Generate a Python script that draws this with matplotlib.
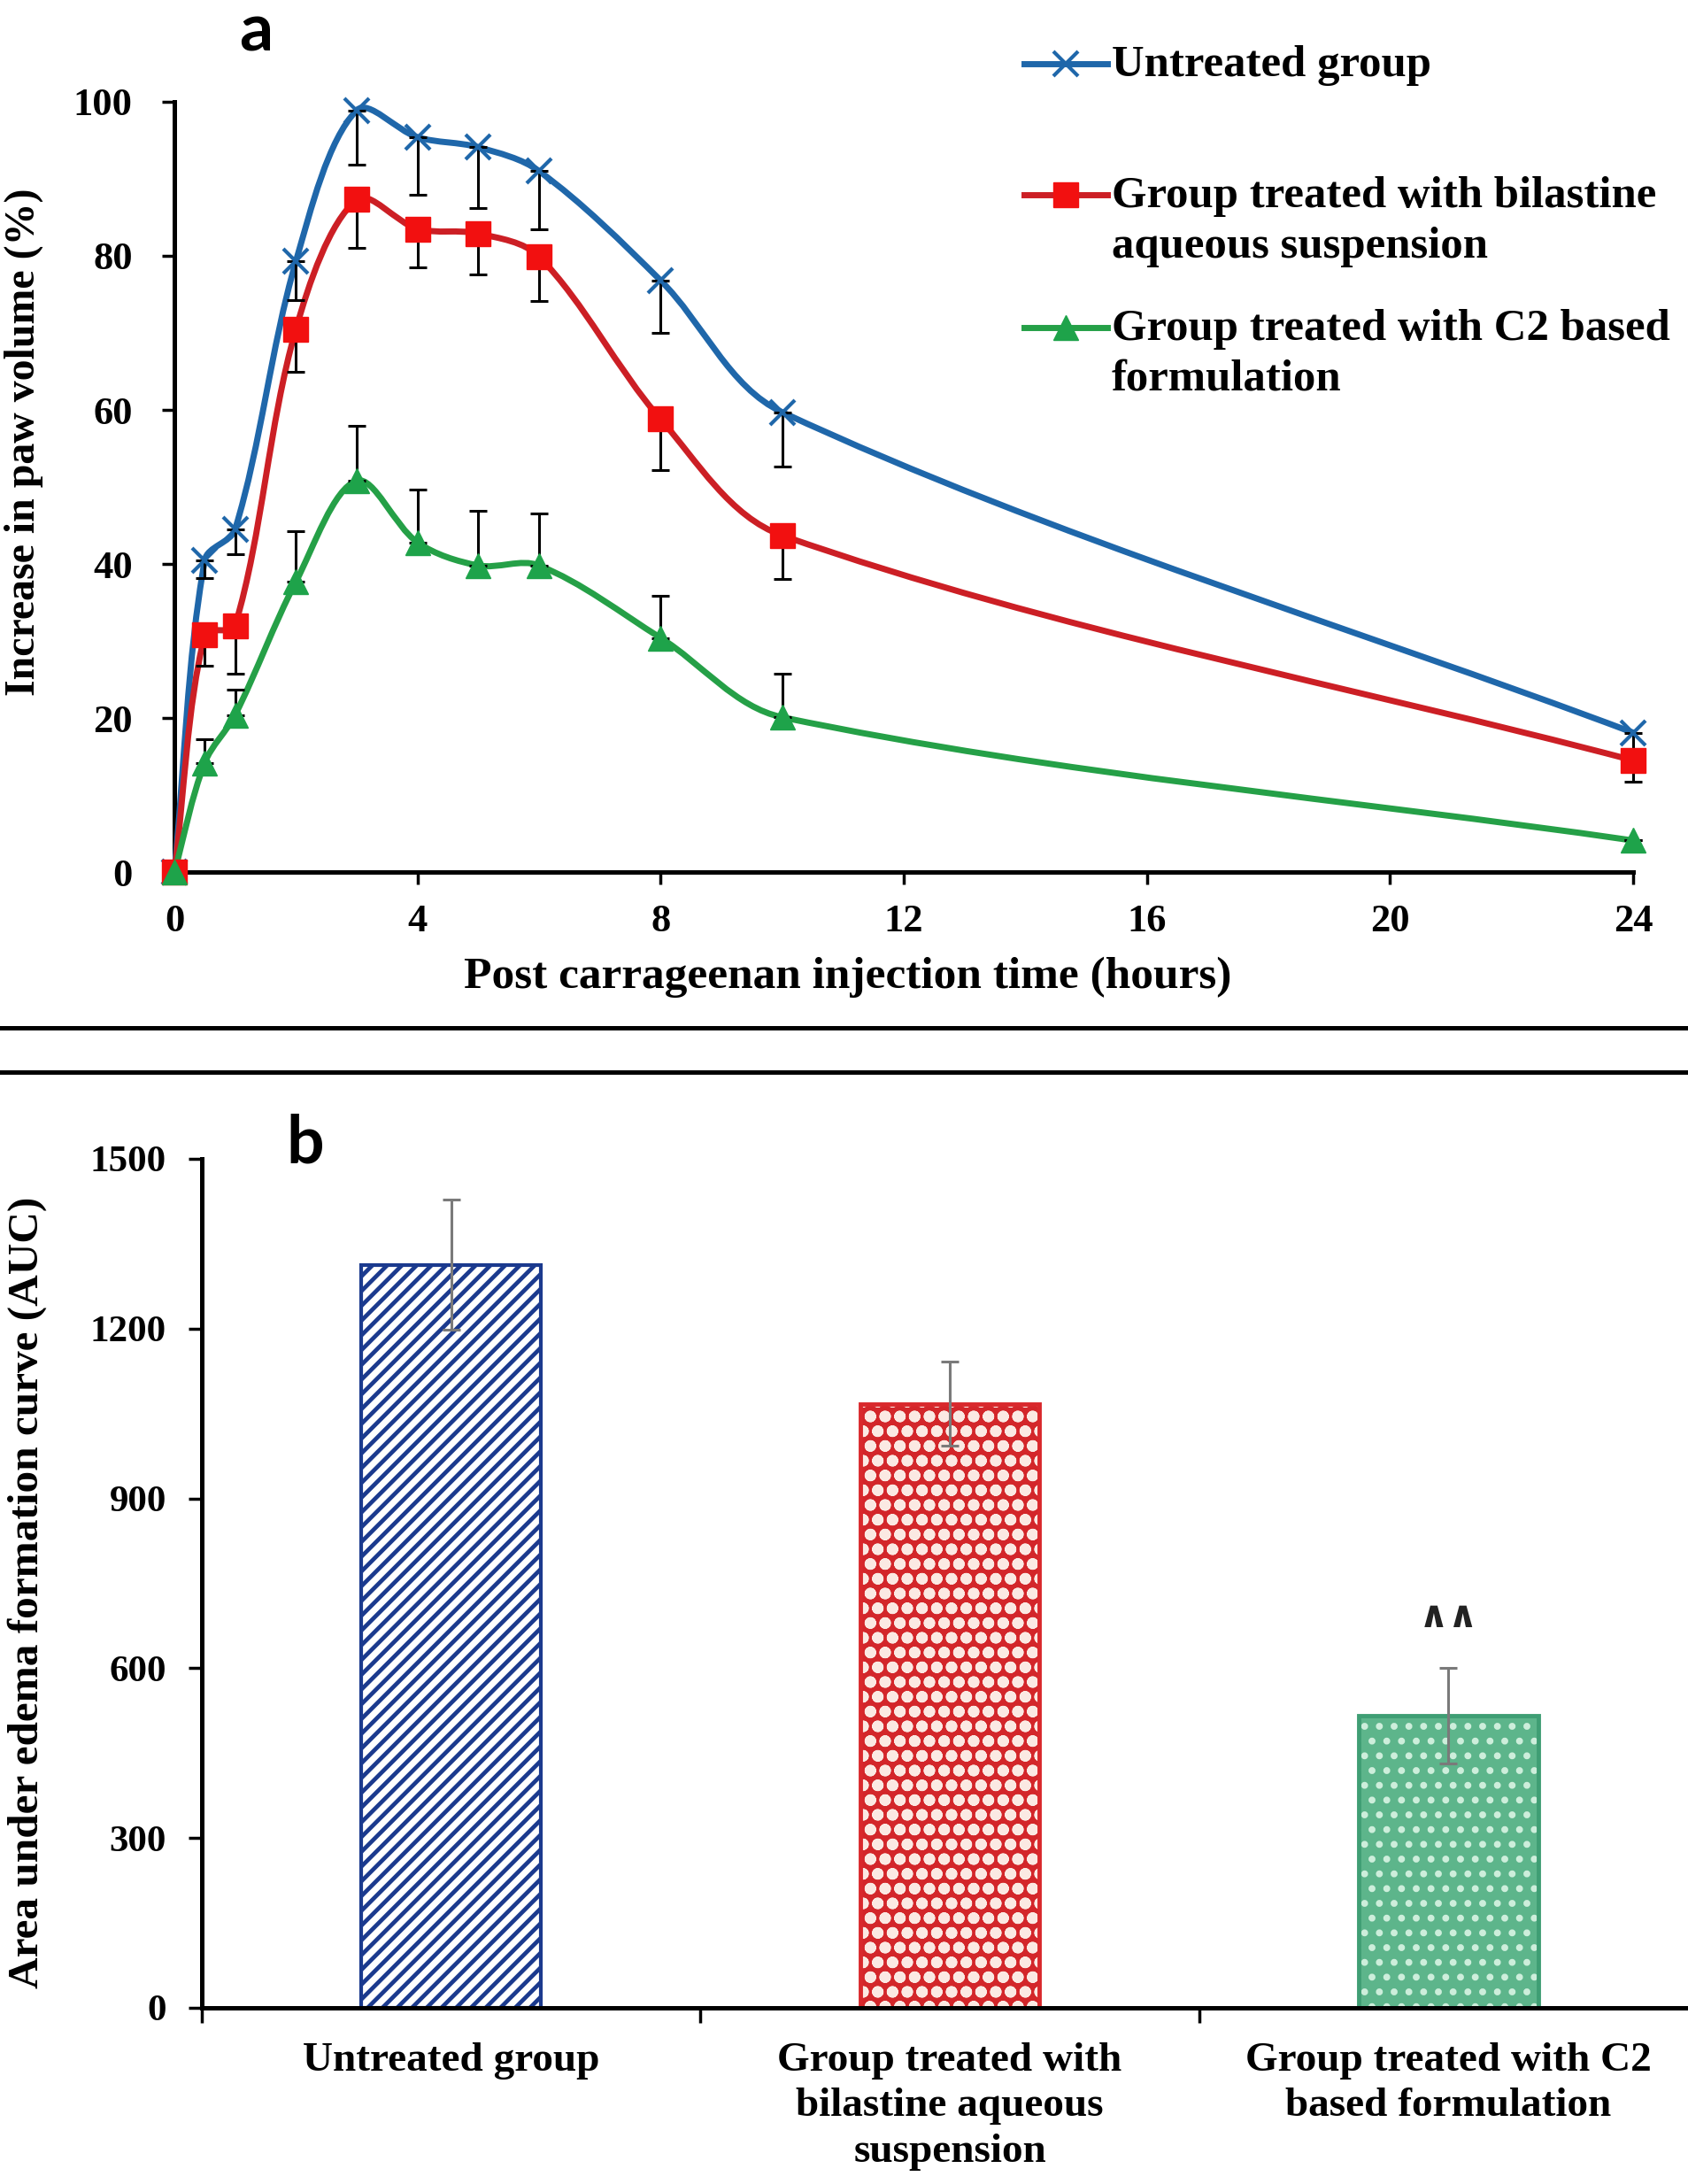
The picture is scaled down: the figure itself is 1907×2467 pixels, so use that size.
import numpy as np
import matplotlib
matplotlib.use("Agg")
import matplotlib.pyplot as plt
from matplotlib.path import Path
from matplotlib.patches import PathPatch
from matplotlib.lines import Line2D

# ---- data (a): paw volume increase (%) vs time (h)
hours = [0, 0.5, 1, 2, 3, 4, 5, 6, 8, 10, 24]
untreated = [0, 40.5, 44.5, 79.3, 98.9, 95.4, 94.1, 91.0, 76.8, 59.7, 18.1]
untreated_err = [0, 2.3, 3.2, 5.0, 7.1, 7.5, 7.9, 7.5, 6.8, 7.0, 3.0]      # drawn downward
bilastine = [0, 30.8, 32.0, 70.5, 87.3, 83.5, 82.9, 79.9, 58.8, 43.7, 14.5]
bilastine_err = [0, 4.0, 6.2, 5.5, 6.3, 5.0, 5.3, 5.8, 6.6, 5.7, 2.8]      # drawn downward
c2_form = [0, 14.2, 20.4, 37.7, 50.8, 42.8, 39.8, 39.8, 30.4, 20.1, 4.1]
c2_err = [0, 3.1, 3.3, 6.6, 7.1, 6.8, 7.1, 6.7, 5.5, 5.6, 0]                # drawn upward

# ---- data (b): AUC
groups = ["Untreated group",
          "Group treated with\nbilastine aqueous\nsuspension",
          "Group treated with C2\nbased formulation"]
auc = [1313, 1067, 516]
auc_err = [115, 74, 84]

legend_labels = ["Untreated group",
                 "Group treated with bilastine\naqueous suspension",
                 "Group treated with C2 based\nformulation"]

BLUE = "#1f67aa"
RED_LINE = "#cc1f25"
RED_MK = "#f21010"
GREEN_LINE = "#25a047"
GREEN_MK = "#1ea34a"

SERIF = "Liberation Serif"
plt.rcParams["font.family"] = [SERIF, "DejaVu Serif"]
plt.rcParams["font.weight"] = "bold"


def smooth_path(xs, ys, sx, sy):
    # smoothed line (like the spreadsheet "smoothed line" option), built in screen-like units
    p = np.column_stack([np.asarray(xs, float) * sx, np.asarray(ys, float) * sy])
    n = len(p)
    d = np.linalg.norm(np.diff(p, axis=0), axis=1)
    tang = np.zeros_like(p)
    tang[0] = (p[1] - p[0]) / d[0]
    tang[-1] = (p[-1] - p[-2]) / d[-1]
    for i in range(1, n - 1):
        tang[i] = (p[i + 1] - p[i - 1]) / (d[i - 1] + d[i])
    verts = [p[0]]
    codes = [Path.MOVETO]
    for i in range(n - 1):
        c1 = p[i] + tang[i] * d[i] / 3
        c2 = p[i + 1] - tang[i + 1] * d[i] / 3
        verts += [c1, c2, p[i + 1]]
        codes += [Path.CURVE4] * 3
    verts = np.array(verts)
    verts[:, 0] /= sx
    verts[:, 1] /= sy
    return Path(verts, codes)


fig = plt.figure(figsize=(19.07, 24.67), dpi=100)

# ================= panel a =================
ax = fig.add_axes([0.1033, 0.6007, 0.8642, 0.3527])
ax.set_xlim(0, 24)
ax.set_ylim(0, 100)

series = [
    (untreated, untreated_err, "down", BLUE, BLUE, "x"),
    (bilastine, bilastine_err, "down", RED_LINE, RED_MK, "s"),
    (c2_form, c2_err, "up", GREEN_LINE, GREEN_MK, "^"),
]
sx, sy = 1648 / 24, 870 / 100
for vals, err, side, lc, mc, mk in series:
    pp = PathPatch(smooth_path(hours, vals, sx, sy), facecolor="none", edgecolor=lc,
                   lw=5, zorder=2, clip_on=False, capstyle="round", joinstyle="round")
    ax.add_patch(pp)
    zeros = [0] * len(err)
    yerr = [err, zeros] if side == "down" else [zeros, err]
    ax.errorbar(hours, vals, yerr=yerr, fmt="none", ecolor="black", elinewidth=2.2,
                capsize=7, capthick=2.2, zorder=3, clip_on=False)
    if mk == "x":
        ax.plot(hours, vals, ls="none", marker="x", ms=20, mew=3, color=mc, zorder=4, clip_on=False)
    else:
        ax.plot(hours, vals, ls="none", marker=mk, ms=20, color=mc, mec=mc, zorder=4, clip_on=False)

for s in ["top", "right"]:
    ax.spines[s].set_visible(False)
for s in ["left", "bottom"]:
    ax.spines[s].set_linewidth(3.6)
    ax.spines[s].set_zorder(1)
ax.set_xticks([0, 4, 8, 12, 16, 20, 24])
ax.set_yticks([0, 20, 40, 60, 80, 100])
ax.tick_params(axis="y", direction="out", length=10, width=2.5, pad=24, labelsize=32)
ax.tick_params(axis="x", direction="out", length=10, width=2.5, pad=16, labelsize=32)
for lab in ax.get_xticklabels() + ax.get_yticklabels():
    lab.set_fontweight("bold")
ax.set_xlabel("Post carrageenan injection time (hours)", fontsize=37, fontweight="bold")
ax.xaxis.set_label_coords(0.4618, -0.110)
fig.text(0.0142, 0.7977, "Increase in paw volume (%)", rotation=90, ha="center",
         va="center", fontsize=34.5, fontweight="bold")

# legend drawn by hand so the markers sit on the first text line
leg_rows = [1 - 72 / 2467, 1 - 220 / 2467, 1 - 370 / 2467]
hx0, hx1 = 1157 / 1907, 1251 / 1907
for (vals, err, side, lc, mc, mk), lab, yy in zip(series, legend_labels, leg_rows):
    fig.add_artist(Line2D([hx0, hx1], [yy, yy], transform=fig.transFigure, color=lc, lw=5))
    if mk == "x":
        fig.add_artist(Line2D([(hx0 + hx1) / 2], [yy], transform=fig.transFigure, ls="none",
                              marker="x", ms=20, mew=3, color=mc))
    else:
        fig.add_artist(Line2D([(hx0 + hx1) / 2], [yy], transform=fig.transFigure, ls="none",
                              marker=mk, ms=20, color=mc))
    fig.text(1256 / 1907, yy + 0.0085, lab, ha="left", va="top", fontsize=36.5,
             fontweight="bold", linespacing=1.3)

fig.text(289 / 1907, 1 - 36 / 2467, "a", family=["Lato", "DejaVu Sans"], fontsize=54,
         fontweight="bold", ha="center", va="center")

# separator lines
for yy in [1 - 1161 / 2467, 1 - 1211 / 2467]:
    fig.add_artist(Line2D([0, 1], [yy, yy], transform=fig.transFigure, color="black", lw=3.6))

# ================= panel b =================
bx = fig.add_axes([0.1196, 0.0807, 1.0058 - 0.1196, 0.3887])
bx.set_xlim(-0.5, 2.5)
bx.set_ylim(0, 1500)
xpos = np.arange(len(groups))
w = 0.36

# hatch line width is taken from rcParams when each bar is created
# bar 1: white with navy stripes
with plt.rc_context({"hatch.linewidth": 3.4}):
    bx.bar(xpos[0], auc[0], w, facecolor="white", edgecolor="#1b3a8e", hatch="//",
           linewidth=3, zorder=2)
# bar 2: red with white dots
with plt.rc_context({"hatch.linewidth": 4.6}):
    bx.bar(xpos[1], auc[1], w, facecolor="#d3262a", edgecolor="#fbe9e3", hatch="o",
           linewidth=0, zorder=2)
bx.bar(xpos[1], auc[1], w, fill=False, edgecolor="#d9282c", linewidth=3.5, zorder=2.1)
# bar 3: green with small light dots
with plt.rc_context({"hatch.linewidth": 3.2}):
    bx.bar(xpos[2], auc[2], w, facecolor="#5db58b", edgecolor="#cdeedb", hatch=".",
           linewidth=0, zorder=2)
bx.bar(xpos[2], auc[2], w, fill=False, edgecolor="#3f9e74", linewidth=3.5, zorder=2.1)

bx.errorbar(xpos, auc, yerr=auc_err, fmt="none", ecolor="#7a7a7a", elinewidth=2.2,
            capsize=7, capthick=2.2, zorder=3)
bx.text(xpos[2], auc[2] + auc_err[2] + 92, "\u2227\u2227", ha="center", va="center",
        fontsize=30, fontweight="bold", color="#222222", family=["DejaVu Sans"])

for s in ["top", "right"]:
    bx.spines[s].set_visible(False)
for s in ["left", "bottom"]:
    bx.spines[s].set_linewidth(3.6)
bx.set_yticks([0, 300, 600, 900, 1200, 1500])
bx.set_xticks([-0.5, 0.5, 1.5])
bx.set_xticklabels([])
bx.set_xticks(xpos, minor=True)
bx.set_xticklabels(groups, minor=True, fontsize=34, fontweight="bold", linespacing=1.3)
bx.tick_params(axis="y", direction="out", length=11, width=2.5, pad=18, labelsize=31)
bx.tick_params(axis="x", which="major", direction="out", length=12, width=2.5)
bx.tick_params(axis="x", which="minor", length=0, pad=28)
for lab in bx.get_yticklabels():
    lab.set_fontweight("bold")
fig.text(0.0163, 0.2707, "Area under edema formation curve (AUC)", rotation=90,
         ha="center", va="center", fontsize=35.5, fontweight="bold")
fig.text(345 / 1907, 1 - 1292 / 2467, "b", family=["Lato", "DejaVu Sans"], fontsize=54,
         fontweight="bold", ha="center", va="center")

fig.savefig("out.png", dpi=100, facecolor="white")
